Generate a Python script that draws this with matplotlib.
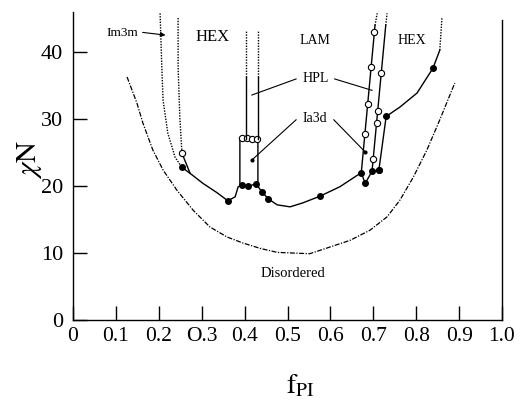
import numpy as np
import matplotlib.pyplot as plt

plt.rcParams['font.family'] = ['Liberation Serif', 'DejaVu Serif']
plt.rcParams['mathtext.fontset'] = 'stix'

# order-disorder transition (dash-dot)
odt_f = [0.126, 0.149, 0.163, 0.186, 0.210, 0.242, 0.280, 0.319, 0.359, 0.396, 0.436, 0.476, 0.513,
         0.552, 0.599, 0.646, 0.692, 0.732, 0.762, 0.793, 0.825, 0.855, 0.890]
odt_x = [36.3, 32.4, 29.4, 25.4, 22.4, 19.4, 16.4, 13.9, 12.4, 11.5, 10.7, 10.1, 10.0,
         9.9, 10.9, 11.9, 13.4, 15.4, 17.9, 21.3, 25.4, 29.9, 35.4]

# main order-order boundary
main_f = [0.254, 0.273, 0.303, 0.336, 0.361, 0.378, 0.385, 0.394, 0.408, 0.427, 0.441, 0.455, 0.476,
          0.506, 0.536, 0.576, 0.622, 0.672, 0.681, 0.697, 0.713]
main_x = [22.8, 21.9, 20.4, 19.0, 17.8, 18.4, 19.9, 20.1, 20.0, 20.3, 19.1, 18.1, 17.2,
          16.9, 17.5, 18.5, 19.9, 22.0, 20.4, 22.2, 22.4]
main_dots = [0, 4, 7, 8, 9, 10, 11, 15, 17, 18, 19, 20]

# Im3m / HEX boundaries (dotted, left)
im3m_f = [0.203, 0.207, 0.210, 0.221, 0.238, 0.254]
im3m_x = [45.8, 37.8, 32.8, 27.9, 24.3, 22.8]
hexl_f = [0.245, 0.245, 0.249, 0.254]
hexl_x = [45.1, 37.8, 30.3, 24.9]

# HPL box on the left
box_f = [0.389, 0.389, 0.394, 0.406, 0.417, 0.429, 0.431, 0.431]
box_x = [20.1, 27.2, 27.2, 27.2, 27.1, 27.0, 27.0, 20.3]
box_open = [2, 3, 4, 5]
upl_f = [0.403, 0.431]
upl_solid_top = 36.3
upl_top = 43.3

# tilted boundaries on the right
lineA_f = [0.672, 0.704, 0.709]
lineA_x = [22.0, 44.0, 45.8]
lineA_open = [43.0, 37.8, 32.2, 27.8]
lineB_f = [0.697, 0.729, 0.732]
lineB_x = [22.2, 44.0, 45.8]
lineB_open = [36.9, 31.2, 29.4, 24.0]

# LAM / HEX boundary on the right
hexr_f = [0.713, 0.730, 0.762, 0.802, 0.839, 0.855]
hexr_x = [22.4, 30.4, 31.8, 33.9, 37.6, 40.3]
hexr_dots = [0, 1, 4]
hexr_top = (0.860, 45.1)

x_ticks = [0, 0.1, 0.2, 0.3, 0.4, 0.5, 0.6, 0.7, 0.8, 0.9, 1.0]
x_labels = ['0', '0.1', '0.2', 'O.3', '0.4', '0.5', '0.6', '0.7', '0.8', '0.9', '1.0']
y_ticks = [0, 10, 20, 30, 40]

fig = plt.figure(figsize=(5.31, 4.03), dpi=100)
ax = fig.add_axes([73 / 531, 1 - 320 / 403, 429 / 531, 308 / 403])

ax.plot(odt_f, odt_x, color='black', lw=0.9, linestyle=(0, (4, 1.2, 1, 1.2)))

ax.plot(main_f, main_x, color='black', lw=1)
ax.plot(np.array(main_f)[main_dots], np.array(main_x)[main_dots], 'o', color='black', ms=4)

ax.plot(im3m_f, im3m_x, color='black', lw=1, linestyle=(0, (1, 1)))
ax.plot(hexl_f, hexl_x, color='black', lw=1, linestyle=(0, (1, 1)))
ax.plot([hexl_f[-1], main_f[1]], [hexl_x[-1], main_x[1]], color='black', lw=1)
ax.plot(hexl_f[-1], hexl_x[-1], 'o', mfc='white', mec='black', ms=4.5, mew=0.8)

ax.plot(box_f, box_x, color='black', lw=1)
ax.plot(np.array(box_f)[box_open], np.array(box_x)[box_open], 'o', mfc='white', mec='black', ms=4.5, mew=0.8)
for f in upl_f:
    ax.plot([f, f], [27.1, upl_solid_top], color='black', lw=1)
    ax.plot([f, f], [upl_solid_top, upl_top], color='black', lw=1, linestyle=(0, (1, 1)))

for lf, lx, opens in [(lineA_f, lineA_x, lineA_open), (lineB_f, lineB_x, lineB_open)]:
    ax.plot(lf[:2], lx[:2], color='black', lw=1)
    ax.plot(lf[1:], lx[1:], color='black', lw=1, linestyle=(0, (1, 1)))
    of = np.interp(opens, lx[:2], lf[:2])
    ax.plot(of, opens, 'o', mfc='white', mec='black', ms=4.5, mew=0.8, zorder=3)

ax.plot(hexr_f, hexr_x, color='black', lw=1)
ax.plot([hexr_f[-1], hexr_top[0]], [hexr_x[-1], hexr_top[1]], color='black', lw=1, linestyle=(0, (1, 1)))
ax.plot(np.array(hexr_f)[hexr_dots], np.array(hexr_x)[hexr_dots], 'o', color='black', ms=4)

# labels and pointers
lab = dict(ha='center', va='center')
ax.text(0.326, 42.2, 'HEX', fontsize=12, **lab)
ax.text(0.564, 41.8, 'LAM', fontsize=10, **lab)
ax.text(0.790, 41.8, 'HEX', fontsize=10, **lab)
ax.text(0.566, 36.0, 'HPL', fontsize=10, **lab)
ax.text(0.564, 30.1, 'Ia3d', fontsize=10, **lab)
ax.text(0.513, 7.0, 'Disordered', fontsize=10.5, **lab)
ax.text(0.114, 42.9, 'Im3m', fontsize=9.5, **lab)
ax.annotate('', xy=(0.222, 42.5), xytext=(0.156, 43.0),
            arrowprops=dict(arrowstyle='-|>', color='black', lw=0.8, mutation_scale=7))
ax.plot([0.520, 0.417], [36.0, 33.6], color='black', lw=0.8)
ax.plot([0.610, 0.697], [36.0, 34.3], color='black', lw=0.8)
ax.plot([0.520, 0.417], [29.9, 23.9], color='black', lw=0.8)
ax.plot([0.608, 0.681], [29.9, 25.1], color='black', lw=0.8)
ax.plot([0.417, 0.681], [23.9, 25.1], 'o', color='black', ms=2)

ax.set_xlim(0, 1.0)
ax.set_ylim(0, 46)
ax.set_xticks(x_ticks)
ax.set_xticklabels(x_labels)
ax.set_yticks(y_ticks)
ax.tick_params(direction='in', length=10, width=1, labelsize=15.5, pad=5)
ax.tick_params(axis='y', pad=7, labelsize=16)
ax.xaxis.set_ticks_position('bottom')
ax.spines['top'].set_visible(False)
ax.spines['right'].set_bounds(0, 44.8)
for s in ax.spines.values():
    s.set_linewidth(1)

fig.text(29 / 531, 1 - 160 / 403, r'$\chi\mathrm{N}$', rotation=90, fontsize=21, ha='center', va='center')
fig.text(300 / 531, 1 - 386 / 403, r'$\mathrm{f}_{\mathrm{PI}}$', fontsize=20, ha='center', va='center')

fig.savefig('out.png', dpi=100)
